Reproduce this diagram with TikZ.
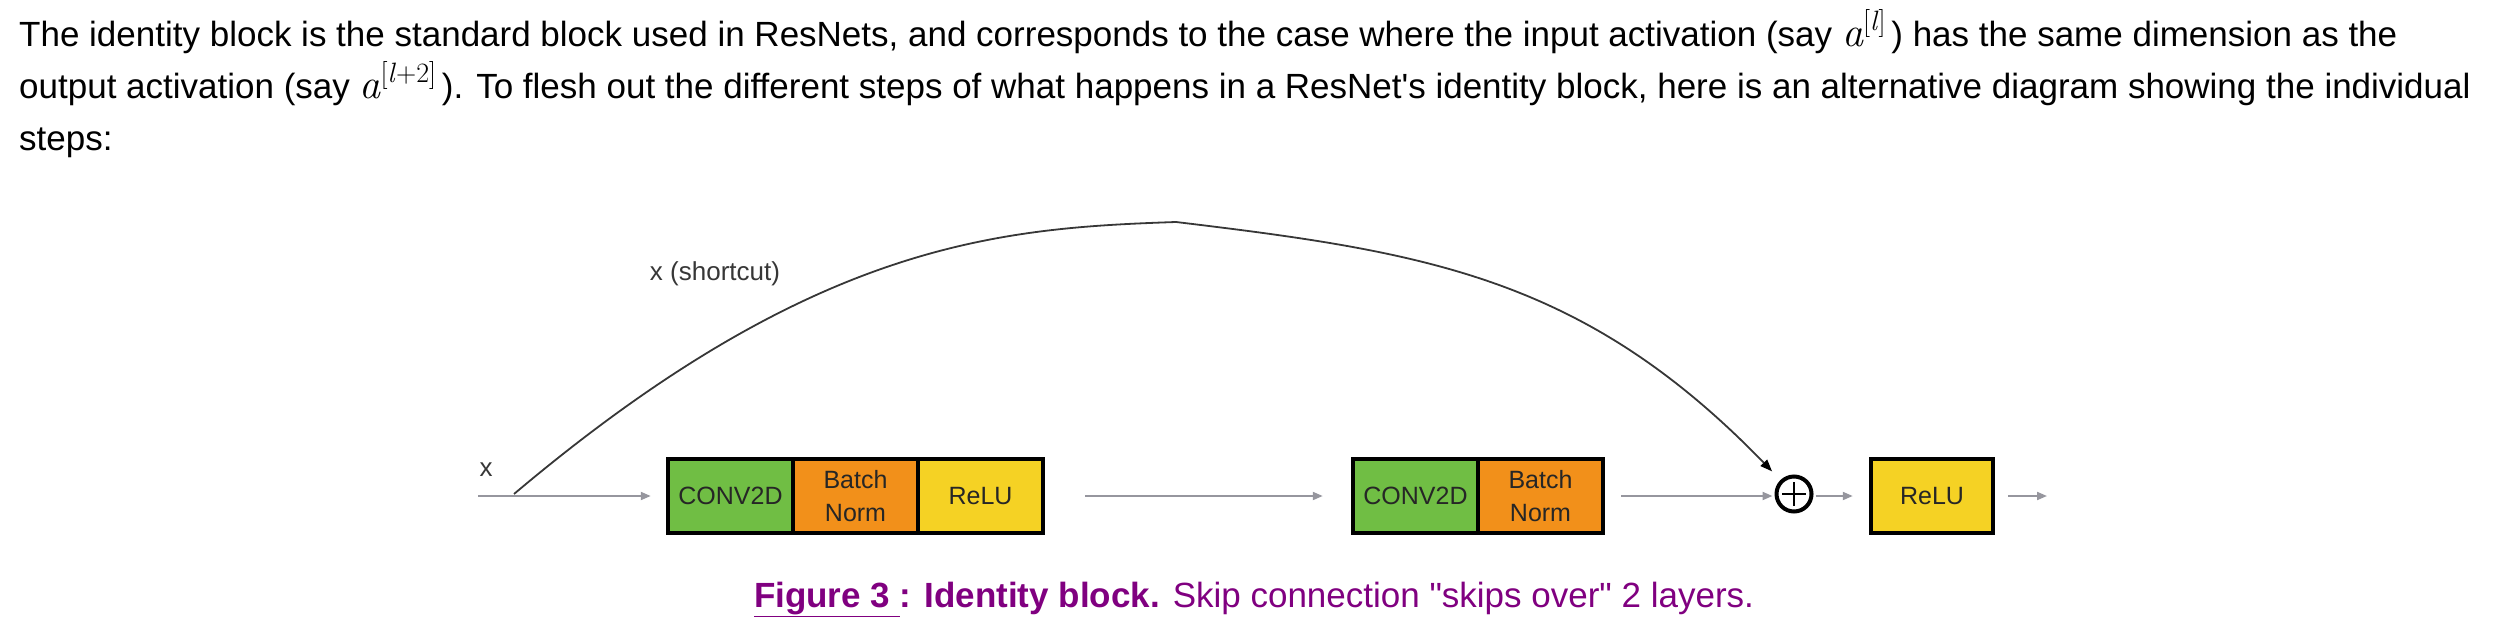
\documentclass[tikz,border=0pt]{standalone}
\usepackage{fontspec}
\setmainfont{Liberation Sans}[Ligatures=TeXOff]
\newfontfamily\lmfont{Latin Modern Roman}
\newcommand{\myact}[1]{{\fontsize{42}{42}\selectfont\lmfont\itshape a}\raisebox{16pt}{\fontsize{28}{28}\selectfont\lmfont #1}\,}
\usetikzlibrary{arrows.meta}
\definecolor{cgreen}{RGB}{112,190,68}
\definecolor{corange}{RGB}{242,144,26}
\definecolor{cyellow}{RGB}{245,210,36}
\definecolor{cpurple}{RGB}{128,0,128}
\definecolor{lgray}{RGB}{150,150,158}
\definecolor{dgray}{RGB}{55,55,55}
\begin{document}
\begin{tikzpicture}[x=1pt,y=-1pt,
  cell/.style={draw=black, line width=4.5pt, minimum height=74pt, minimum width=125pt,
    inner sep=0pt, align=center, font=\fontsize{25}{33}\selectfont, text=black!85},
  body/.style={anchor=base west, inner sep=0pt, font=\fontsize{35}{40}\selectfont},
  lbl/.style={inner sep=0pt, font=\fontsize{26}{30}\selectfont, text=dgray},
  garrow/.style={draw=lgray, line width=2pt, -{Triangle[length=10pt,width=8pt]}},
  scut/.style={draw=dgray, line width=1.8pt, -{Triangle[length=12pt,width=9pt,color=black]}},
  plusnode/.style={circle, draw=black, line width=4pt, minimum size=35pt, inner sep=0pt,
    path picture={\draw[line width=2.8pt]
      ([xshift=-12pt]path picture bounding box.center) -- ([xshift=12pt]path picture bounding box.center)
      ([yshift=-12pt]path picture bounding box.center) -- ([yshift=12pt]path picture bounding box.center);}}
]
\useasboundingbox (0,0) rectangle (2497,637);

% body text
\node[body] (l1) at (19,46) {The identity block is the standard block used in ResNets, and corresponds to the case where the input activation (say \myact{[\textit{l}]}) has the same dimension as the};
\node[body] (l2) at (19,98) {output activation (say \myact{[\textit{l}+2]}). To flesh out the different steps of what happens in a ResNet's identity block, here is an alternative diagram showing the individual};
\node[body] (l3) at (19,150) {steps:};

% labels
\node[lbl] (xlab) at (486,470) {x};
\node[lbl] (sclab) at (715,274) {x (shortcut)};

% blocks
\node[cell, fill=cgreen] (conv1) at (730.5,496) {CONV2D};
\node[cell, fill=corange] (bn1) at (855.5,496) {Batch\\Norm};
\node[cell, fill=cyellow] (relu1) at (980.5,496) {ReLU};
\node[cell, fill=cgreen] (conv2) at (1415.5,496) {CONV2D};
\node[cell, fill=corange] (bn2) at (1540.5,496) {Batch\\Norm};
\node[plusnode] (plus) at (1794,494) {};
\node[cell, fill=cyellow, minimum width=122pt] (relu3) at (1932,496) {ReLU};

\coordinate (xin) at (478,496);
\coordinate (scs) at (514,494);
\coordinate (peak) at (1176,222);
\coordinate (xout) at (2047,496);

% connectors
\draw[garrow, shorten >=15pt] (xin) -- (conv1.west);
\draw[garrow, shorten <=40pt, shorten >=28pt] (relu1.east) -- (conv2.west);
\draw[garrow, shorten <=16pt, shorten >=2pt] (bn2.east) -- (plus.west |- bn2.east);
\draw[garrow, shorten <=2pt, shorten >=16pt] (plus.east |- relu3.west) -- (relu3.west);
\draw[garrow, shorten <=13pt] (relu3.east) -- (xout);
\draw[scut, shorten >=12pt] (scs) .. controls (814,241) and (1000,228) .. (peak)
  .. controls (1426,252) and (1584,277) .. (plus);

% caption
\node[anchor=base, inner sep=0pt, font=\fontsize{35}{40}\selectfont, text=cpurple] (cap) at (1254,607)
  {\textbf{\underline{Figure 3 }: Identity block.} Skip connection "skips over" 2 layers.};
\end{tikzpicture}
\end{document}
